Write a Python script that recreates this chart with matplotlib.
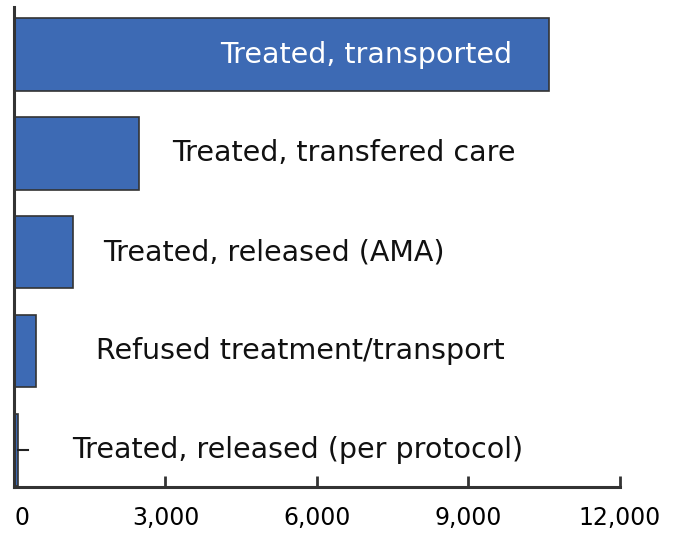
import matplotlib.pyplot as plt

categories = [
    "Treated, transported",
    "Treated, transfered care",
    "Treated, released (AMA)",
    "Refused treatment/transport",
    "Treated, released (per protocol)",
]
counts = [10600, 2470, 1170, 430, 80]

# where each label sits (data units along x)
label_x = [9860, 3130, 1760, 1620, 1150]
bar_color = "#3d6ab4"

plt.rcParams["font.family"] = ["DejaVu Sans"]

fig = plt.figure(figsize=(6.87, 5.35), dpi=100)
ax = fig.add_axes([0.0204, 0.0897, 0.882, 0.897])

ypos = list(range(len(categories)))
ax.barh(ypos, counts, height=0.73, color=bar_color, edgecolor="#333333", linewidth=1.2)

for i, (name, x) in enumerate(zip(categories, label_x)):
    if i == 0:
        ax.text(x, i, name, ha="right", va="center", color="white", fontsize=20.5)
    else:
        ax.text(x, i, name, ha="left", va="center", color="#111111", fontsize=20.5)

# leader line for the tiny last bar
ax.plot([counts[-1], 280], [4, 4], color="#222222", lw=1.5)

ax.set_xlim(0, 12000)
ax.set_ylim(4.374, -0.48)
ax.set_xticks([0, 3000, 6000, 9000, 12000])
ax.set_xticklabels(["0", "3,000", "6,000", "9,000", "12,000"], fontsize=17)
ax.get_xticklabels()[0].set_ha("left")
ax.set_yticks([])
ax.tick_params(axis="x", direction="in", length=8, width=2, color="#333333", pad=14)

for s in ["top", "right"]:
    ax.spines[s].set_visible(False)
for s in ["left", "bottom"]:
    ax.spines[s].set_linewidth(2.2)
    ax.spines[s].set_color("#333333")

fig.savefig("out.png", dpi=100)
